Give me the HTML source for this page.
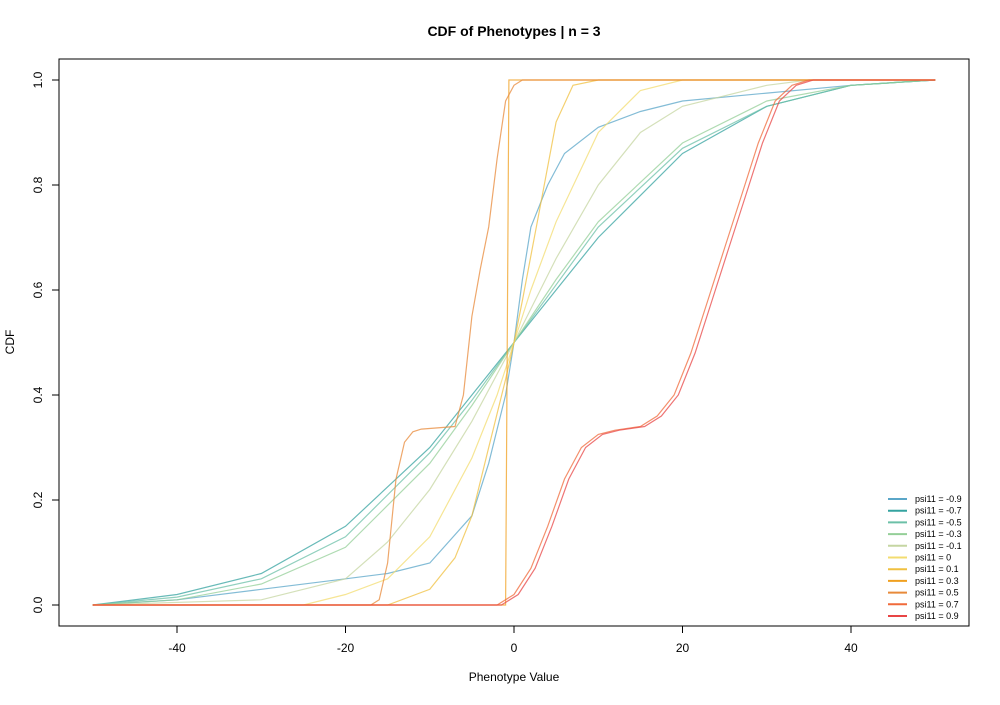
<!DOCTYPE html>
<html><head><meta charset="utf-8"><style>
body{margin:0;background:#fff}
svg{font-family:"Liberation Sans",sans-serif}
</style></head><body>
<svg id="c" width="1000" height="700">
<text x="514" y="36" text-anchor="middle" font-size="14" font-weight="bold">CDF of Phenotypes | n = 3</text>
<rect x="59" y="59" width="910" height="567" fill="none" stroke="#000" stroke-width="1"/>
<text x="514" y="681" text-anchor="middle" font-size="12">Phenotype Value</text>
<text transform="translate(14,342) rotate(-90)" text-anchor="middle" font-size="12">CDF</text>
<g id="axes"></g><g id="lines"></g><g id="legend"></g>
</svg>
<script>
const xTicks=[-40,-20,0,20,40];
const yTicks=[0,0.2,0.4,0.6,0.8,1.0];
const labels=["psi11 = -0.9","psi11 = -0.7","psi11 = -0.5","psi11 = -0.3","psi11 = -0.1","psi11 = 0","psi11 = 0.1","psi11 = 0.3","psi11 = 0.5","psi11 = 0.7","psi11 = 0.9"];
const colors=["#5aa6c8","#35a3a0","#6cc0a8","#94cf98","#c5d6a2","#f3dc70","#f0c040","#f0a020","#e88a3a","#f06a3a","#e84545"];
const xsA=[-50,-40,-30,-20,-15,-10,-5,-3,-1,0,1,2,4,6,10,15,20,30,40,50];
const ysA=[0,0.01,0.03,0.05,0.06,0.08,0.17,0.27,0.4,0.5,0.62,0.72,0.8,0.86,0.91,0.94,0.96,0.975,0.99,1];
const xsB=[-50,-40,-30,-20,-10,-5,0,5,10,20,30,40,50];
const ysB1=[0,0.02,0.06,0.15,0.3,0.4,0.5,0.6,0.7,0.86,0.95,0.99,1];
const ysB2=[0,0.015,0.05,0.13,0.29,0.39,0.5,0.61,0.72,0.87,0.95,0.99,1];
const ysB3=[0,0.01,0.04,0.11,0.27,0.38,0.5,0.62,0.73,0.88,0.96,0.99,1];
const xsC=[-50,-30,-20,-15,-10,-5,0,5,10,15,20,30,35,50];
const ysC=[0,0.01,0.05,0.12,0.22,0.35,0.5,0.66,0.8,0.9,0.95,0.99,1,1];
const xsD=[-50,-25,-20,-15,-10,-5,-2,0,2,5,10,15,20,50];
const ysD=[0,0,0.02,0.05,0.13,0.28,0.4,0.5,0.6,0.73,0.9,0.98,1,1];
const xsE=[-50,-15,-10,-7,-5,-3,-1,0,1,3,5,7,10,50];
const ysE=[0,0,0.03,0.09,0.17,0.3,0.43,0.5,0.58,0.75,0.92,0.99,1,1];
const xsF=[-50,-1,-0.6,50];
const ysF=[0,0,1,1];
const xsG=[-50,-17,-16,-15,-14,-13,-12,-11,-7,-6,-5,-4,-3,-2,-1,0,1,50];
const ysG=[0,0,0.01,0.08,0.24,0.31,0.33,0.335,0.34,0.4,0.55,0.64,0.72,0.85,0.96,0.99,1,1];
const xsH=[-50,-2,0,2,4,6,8,10,12,15,17,19,21,23,25,27,29,31,33,35,50];
const ysH=[0,0,0.02,0.07,0.15,0.24,0.3,0.325,0.333,0.34,0.36,0.4,0.48,0.58,0.68,0.78,0.88,0.96,0.99,1,1];
const xsI=[-50,-1.5,0.5,2.5,4.5,6.5,8.5,10.5,12.5,15.5,17.5,19.5,21.5,23.5,25.5,27.5,29.5,31.5,33.5,35.5,50];
const ysI=[0,0,0.02,0.07,0.15,0.24,0.3,0.325,0.333,0.34,0.36,0.4,0.48,0.58,0.68,0.78,0.88,0.96,0.99,1,1];
const seriesX=[xsA,xsB,xsB,xsB,xsC,xsD,xsE,xsF,xsG,xsH,xsI];
const seriesY=[ysA,ysB1,ysB2,ysB3,ysC,ysD,ysE,ysF,ysG,ysH,ysI];
const X=v=>514+v*8.425;
const Y=v=>605-v*525;
const NS="http://www.w3.org/2000/svg";
function mk(t,a,p){const e=document.createElementNS(NS,t);for(const k in a)e.setAttribute(k,a[k]);p.appendChild(e);return e;}
const ax=document.getElementById('axes');
mk('line',{x1:X(-40),x2:X(40),y1:626,y2:626,stroke:'#000'},ax);
xTicks.forEach(t=>{
 const l=mk('line',{x1:X(t),x2:X(t),y1:626,y2:633,stroke:'#000'},ax);
 
 
 const tx=mk('text',{x:X(t),y:652,'text-anchor':'middle','font-size':12},ax);tx.textContent=t;
 
 
});
mk('line',{x1:59,x2:59,y1:Y(0),y2:Y(1),stroke:'#000'},ax);
yTicks.forEach(t=>{
 const l=mk('line',{x1:52,x2:59,y1:Y(t),y2:Y(t),stroke:'#000'},ax);
 
 
 const tx=mk('text',{transform:`translate(42,${Y(t)}) rotate(-90)`,'text-anchor':'middle','font-size':12},ax);tx.textContent=t.toFixed(1);
 
 
});
const lg=document.getElementById('lines');
seriesY.forEach((ys,i)=>{
 const xs=seriesX[i];
 const d=ys.map((v,j)=>(j?'L':'M')+X(xs[j]).toFixed(1)+','+Y(v).toFixed(1)).join('');
 const p=mk('path',{d:d,fill:'none',stroke:colors[i],'stroke-width':1.2,'stroke-opacity':0.75},lg);
 
 
});
const le=document.getElementById('legend');
labels.forEach((s,i)=>{
 const y=499+i*11.7;
 const l=mk('line',{x1:888,x2:907,y1:y,y2:y,stroke:colors[i],'stroke-width':2},le);
 
 
 const t=mk('text',{x:915,y:y+3,'font-size':9},le);t.textContent=s;
 
 
});
</script>
</body></html>
